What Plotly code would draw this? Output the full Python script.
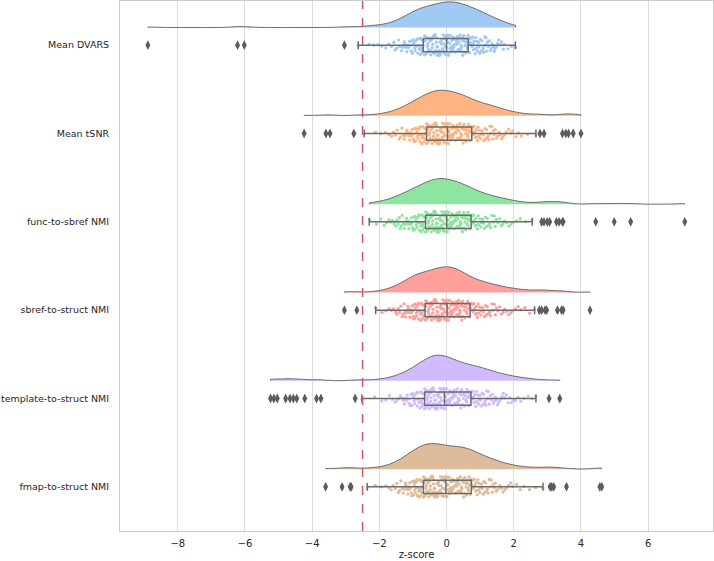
import plotly.graph_objects as go

# rows top -> bottom
labels = ["Mean DVARS", "Mean tSNR", "func-to-sbref NMI", "sbref-to-struct NMI",
          "template-to-struct NMI", "fmap-to-struct NMI"]
colors = ["#a1c9f4", "#ffb482", "#8de5a1", "#ff9f9b", "#d0bbff", "#debb9b"]

xticks = [-8, -6, -4, -2, 0, 2, 4, 6]
cutoff = -2.5

# z-scores per metric, estimated from the strip plot (outliers first)
mean_dvars = [
    -8.89, -6.22, -6.02, -3.04,
    -2.63, -2.31, -2.17, -2.04, -1.93, -1.81, -1.72, -1.64, -1.57, -1.53,
    -1.49, -1.43, -1.40, -1.34, -1.31, -1.29, -1.26,
    -1.24, -1.22, -1.18, -1.16, -1.14, -1.10, -1.09, -1.06, -1.03, -1.02, -1.01,
    -0.99, -0.98, -0.95, -0.93, -0.92, -0.89, -0.88, -0.86, -0.84, -0.83, -0.81, -0.79, -0.78, -0.77, -0.75,
    -0.74, -0.72, -0.71, -0.70, -0.69, -0.66, -0.65, -0.64, -0.61, -0.60, -0.59, -0.57, -0.56, -0.54, -0.53, -0.52, -0.50,
    -0.49, -0.47, -0.46, -0.45, -0.43, -0.41, -0.40, -0.39, -0.37, -0.36, -0.34, -0.33, -0.32, -0.30, -0.29, -0.28, -0.27, -0.25,
    -0.24, -0.23, -0.22, -0.21, -0.19, -0.18, -0.17, -0.15, -0.14, -0.13, -0.12, -0.10, -0.09, -0.08, -0.07, -0.05, -0.04, -0.03, -0.02, -0.01,
    0.00, 0.01, 0.03, 0.04, 0.05, 0.06, 0.08, 0.09, 0.10, 0.11, 0.12, 0.14, 0.15, 0.16, 0.17, 0.18, 0.19, 0.20, 0.21, 0.22, 0.23, 0.24,
    0.26, 0.27, 0.29, 0.30, 0.31, 0.32, 0.34, 0.35, 0.36, 0.38, 0.39, 0.40, 0.41, 0.43, 0.44, 0.45, 0.46, 0.47, 0.48, 0.49,
    0.51, 0.52, 0.54, 0.55, 0.57, 0.58, 0.59, 0.61, 0.62, 0.64, 0.65, 0.67, 0.68, 0.70, 0.71, 0.73, 0.74,
    0.76, 0.78, 0.79, 0.80, 0.82, 0.84, 0.85, 0.87, 0.88, 0.90, 0.92, 0.93, 0.95, 0.97, 0.99,
    1.01, 1.03, 1.05, 1.08, 1.09, 1.11, 1.14, 1.15, 1.17, 1.20, 1.21, 1.24,
    1.27, 1.31, 1.33, 1.36, 1.40, 1.42, 1.45, 1.49,
    1.52, 1.55, 1.61, 1.64, 1.69, 1.72, 1.83, 1.93, 2.05,
]

mean_tsnr = [
    -4.24, -3.59, -3.47, -2.76, 2.78, 2.90, 3.45, 3.55, 3.63, 3.77, 4.00,
    -2.45, -2.12, -1.96, -1.82, -1.71, -1.63, -1.58, -1.52,
    -1.47, -1.41, -1.37, -1.33, -1.29, -1.26,
    -1.24, -1.21, -1.18, -1.15, -1.13, -1.10, -1.08, -1.05, -1.03, -1.01,
    -0.99, -0.97, -0.95, -0.93, -0.91, -0.89, -0.87, -0.85, -0.83, -0.82, -0.80, -0.79, -0.77, -0.76,
    -0.74, -0.73, -0.71, -0.70, -0.69, -0.67, -0.66, -0.64, -0.63, -0.62, -0.60, -0.59, -0.57, -0.56, -0.55, -0.53, -0.52, -0.51,
    -0.49, -0.48, -0.47, -0.46, -0.44, -0.43, -0.42, -0.41, -0.39, -0.38, -0.37, -0.36, -0.34, -0.33, -0.32, -0.31, -0.30, -0.29, -0.28, -0.27, -0.26,
    -0.25, -0.24, -0.23, -0.22, -0.21, -0.20, -0.19, -0.17, -0.16, -0.15, -0.14, -0.13, -0.12, -0.11, -0.10, -0.08, -0.07, -0.06, -0.05, -0.04, -0.03, -0.01,
    0.00, 0.01, 0.02, 0.04, 0.05, 0.06, 0.07, 0.08, 0.10, 0.11, 0.12, 0.13, 0.14, 0.16, 0.17, 0.18, 0.19, 0.20, 0.22, 0.23, 0.24,
    0.26, 0.27, 0.28, 0.29, 0.31, 0.32, 0.33, 0.35, 0.36, 0.37, 0.38, 0.40, 0.41, 0.42, 0.44, 0.45, 0.46, 0.48, 0.49,
    0.51, 0.52, 0.54, 0.55, 0.57, 0.58, 0.60, 0.61, 0.63, 0.64, 0.66, 0.67, 0.69, 0.70, 0.72, 0.74,
    0.76, 0.78, 0.80, 0.82, 0.84, 0.86, 0.88, 0.90, 0.92, 0.94, 0.96, 0.99,
    1.01, 1.04, 1.06, 1.09, 1.11, 1.14, 1.16, 1.19, 1.21, 1.24,
    1.26, 1.29, 1.32, 1.34, 1.37, 1.40, 1.42, 1.45, 1.48,
    1.52, 1.56, 1.60, 1.64, 1.68, 1.73, 1.78, 1.85, 1.91, 1.97,
    2.06, 2.14, 2.23, 2.41, 2.66,
]

func_sbref_nmi = [
    2.83, 2.90, 3.00, 3.07, 3.27, 3.35, 3.45, 3.47, 4.44, 4.99, 5.48, 7.09,
    -2.30, -2.09, -1.96, -1.86, -1.78, -1.72, -1.66, -1.61, -1.56, -1.51,
    -1.48, -1.44, -1.41, -1.38, -1.35, -1.32, -1.29, -1.26,
    -1.24, -1.21, -1.19, -1.16, -1.14, -1.12, -1.09, -1.07, -1.05, -1.03, -1.01,
    -0.99, -0.97, -0.95, -0.94, -0.92, -0.90, -0.88, -0.86, -0.85, -0.83, -0.81, -0.80, -0.78, -0.77, -0.76,
    -0.74, -0.73, -0.71, -0.70, -0.68, -0.67, -0.66, -0.64, -0.63, -0.62, -0.60, -0.59, -0.57, -0.56, -0.55, -0.53, -0.52, -0.51,
    -0.49, -0.48, -0.47, -0.46, -0.44, -0.43, -0.42, -0.41, -0.39, -0.38, -0.37, -0.36, -0.34, -0.33, -0.32, -0.31, -0.30, -0.29, -0.28, -0.27, -0.26,
    -0.25, -0.24, -0.23, -0.22, -0.21, -0.20, -0.18, -0.17, -0.16, -0.15, -0.14, -0.13, -0.12, -0.11, -0.09, -0.08, -0.07, -0.06, -0.05, -0.04, -0.02, -0.01,
    0.00, 0.01, 0.02, 0.03, 0.05, 0.06, 0.07, 0.08, 0.09, 0.11, 0.12, 0.13, 0.14, 0.15, 0.17, 0.18, 0.19, 0.20, 0.21, 0.23, 0.24,
    0.26, 0.27, 0.29, 0.30, 0.31, 0.33, 0.34, 0.35, 0.37, 0.38, 0.39, 0.41, 0.42, 0.43, 0.45, 0.46, 0.47, 0.49,
    0.51, 0.52, 0.54, 0.55, 0.57, 0.58, 0.60, 0.61, 0.63, 0.64, 0.66, 0.67, 0.69, 0.70, 0.72, 0.74,
    0.77, 0.79, 0.81, 0.83, 0.86, 0.88, 0.90, 0.92, 0.94, 0.96, 0.99,
    1.02, 1.04, 1.07, 1.10, 1.13, 1.16, 1.18, 1.21, 1.24,
    1.28, 1.31, 1.35, 1.38, 1.42, 1.45, 1.48,
    1.53, 1.58, 1.63, 1.68, 1.73, 1.79, 1.86, 1.92, 1.98,
    2.08, 2.19, 2.36, 2.55,
]

sbref_struct_nmi = [
    -3.04, -2.67, 2.76, 2.83, 2.93, 2.98, 3.30, 3.42, 3.47, 4.27,
    -2.11, -1.92, -1.80, -1.71, -1.64, -1.58, -1.52,
    -1.48, -1.44, -1.40, -1.36, -1.32, -1.29, -1.26,
    -1.24, -1.22, -1.20, -1.17, -1.15, -1.13, -1.11, -1.09, -1.07, -1.05, -1.03, -1.01,
    -0.99, -0.98, -0.96, -0.95, -0.93, -0.92, -0.90, -0.89, -0.87, -0.86, -0.84, -0.83, -0.81, -0.80, -0.78, -0.77, -0.76,
    -0.74, -0.73, -0.71, -0.70, -0.68, -0.67, -0.65, -0.64, -0.62, -0.61, -0.59, -0.58, -0.56, -0.55, -0.53, -0.52, -0.51,
    -0.49, -0.48, -0.46, -0.45, -0.44, -0.42, -0.41, -0.40, -0.38, -0.37, -0.36, -0.34, -0.33, -0.32, -0.30, -0.29, -0.28, -0.27, -0.26,
    -0.25, -0.24, -0.23, -0.22, -0.21, -0.19, -0.18, -0.17, -0.16, -0.15, -0.14, -0.13, -0.11, -0.10, -0.09, -0.08, -0.07, -0.06, -0.05, -0.03, -0.02, -0.01,
    0.00, 0.01, 0.02, 0.03, 0.04, 0.05, 0.07, 0.08, 0.09, 0.10, 0.11, 0.12, 0.13, 0.14, 0.15, 0.16, 0.18, 0.19, 0.20, 0.21, 0.22, 0.23, 0.24,
    0.26, 0.27, 0.28, 0.29, 0.30, 0.32, 0.33, 0.34, 0.35, 0.36, 0.38, 0.39, 0.40, 0.41, 0.43, 0.44, 0.45, 0.46, 0.48, 0.49,
    0.51, 0.53, 0.54, 0.56, 0.58, 0.59, 0.61, 0.63, 0.64, 0.66, 0.68, 0.70, 0.72, 0.74,
    0.77, 0.79, 0.81, 0.83, 0.86, 0.88, 0.90, 0.92, 0.94, 0.96, 0.99,
    1.02, 1.04, 1.07, 1.10, 1.13, 1.16, 1.18, 1.21, 1.24,
    1.28, 1.31, 1.35, 1.38, 1.42, 1.45, 1.48,
    1.53, 1.58, 1.63, 1.68, 1.73, 1.79, 1.85, 1.91, 1.97,
    2.05, 2.13, 2.21, 2.33, 2.47, 2.62,
]

template_struct_nmi = [
    -5.24, -5.14, -5.04, -4.79, -4.66, -4.56, -4.46, -4.22, -3.87, -3.74, -2.72, 3.05, 3.37,
    -2.52, -2.14, -1.93, -1.81, -1.70, -1.61, -1.53,
    -1.47, -1.42, -1.37, -1.33, -1.29, -1.26,
    -1.23, -1.20, -1.17, -1.14, -1.11, -1.08, -1.06, -1.03, -1.01,
    -0.99, -0.97, -0.95, -0.93, -0.91, -0.89, -0.87, -0.85, -0.83, -0.81, -0.79, -0.77, -0.76,
    -0.74, -0.73, -0.72, -0.70, -0.69, -0.68, -0.66, -0.65, -0.64, -0.62, -0.61, -0.60, -0.58, -0.57, -0.56, -0.55, -0.54, -0.53, -0.52, -0.51,
    -0.49, -0.48, -0.47, -0.46, -0.45, -0.44, -0.42, -0.41, -0.40, -0.39, -0.38, -0.37, -0.35, -0.34, -0.33, -0.32, -0.31, -0.30, -0.29, -0.28, -0.27, -0.26,
    -0.25, -0.24, -0.23, -0.22, -0.21, -0.20, -0.19, -0.18, -0.17, -0.16, -0.15, -0.14, -0.12, -0.11, -0.10, -0.09, -0.08, -0.07, -0.06, -0.05, -0.04, -0.03, -0.01,
    0.00, 0.01, 0.03, 0.04, 0.05, 0.06, 0.08, 0.09, 0.10, 0.11, 0.13, 0.14, 0.15, 0.16, 0.18, 0.19, 0.20, 0.21, 0.23, 0.24,
    0.26, 0.27, 0.29, 0.30, 0.32, 0.33, 0.35, 0.36, 0.38, 0.39, 0.41, 0.42, 0.44, 0.45, 0.47, 0.49,
    0.51, 0.53, 0.54, 0.56, 0.58, 0.59, 0.61, 0.63, 0.64, 0.66, 0.68, 0.70, 0.72, 0.74,
    0.76, 0.78, 0.80, 0.82, 0.84, 0.86, 0.87, 0.89, 0.91, 0.93, 0.95, 0.97, 0.99,
    1.01, 1.03, 1.06, 1.08, 1.10, 1.13, 1.15, 1.17, 1.19, 1.22, 1.24,
    1.27, 1.30, 1.33, 1.36, 1.39, 1.42, 1.45, 1.48,
    1.52, 1.56, 1.61, 1.65, 1.69, 1.73, 1.78, 1.83, 1.88, 1.93, 1.98,
    2.05, 2.13, 2.21, 2.31, 2.43, 2.55, 2.66,
]

fmap_struct_nmi = [
    -3.60, -3.11, -2.87, -2.84, 2.87, 3.08, 3.13, 3.19, 3.57, 4.56, 4.62,
    -2.36, -2.12, -1.94, -1.81, -1.72, -1.65, -1.59, -1.53,
    -1.48, -1.44, -1.40, -1.36, -1.32, -1.29, -1.26,
    -1.24, -1.22, -1.20, -1.17, -1.15, -1.13, -1.11, -1.09, -1.07, -1.05, -1.03, -1.01,
    -0.99, -0.98, -0.96, -0.95, -0.93, -0.92, -0.90, -0.89, -0.87, -0.86, -0.84, -0.83, -0.81, -0.80, -0.78, -0.77, -0.76,
    -0.74, -0.73, -0.72, -0.70, -0.69, -0.68, -0.66, -0.65, -0.64, -0.63, -0.61, -0.60, -0.59, -0.58, -0.56, -0.55, -0.54, -0.53, -0.52, -0.51,
    -0.49, -0.48, -0.47, -0.46, -0.44, -0.43, -0.42, -0.41, -0.40, -0.39, -0.37, -0.36, -0.35, -0.34, -0.33, -0.31, -0.30, -0.29, -0.28, -0.26,
    -0.25, -0.24, -0.22, -0.21, -0.20, -0.18, -0.17, -0.16, -0.15, -0.13, -0.12, -0.11, -0.09, -0.08, -0.07, -0.05, -0.04, -0.02,
    0.00, 0.01, 0.03, 0.04, 0.05, 0.07, 0.08, 0.09, 0.11, 0.12, 0.13, 0.15, 0.16, 0.17, 0.19, 0.20, 0.22, 0.24,
    0.26, 0.27, 0.29, 0.30, 0.31, 0.33, 0.34, 0.35, 0.37, 0.38, 0.40, 0.41, 0.42, 0.44, 0.45, 0.46, 0.48, 0.49,
    0.51, 0.52, 0.54, 0.55, 0.57, 0.58, 0.60, 0.61, 0.62, 0.64, 0.65, 0.67, 0.68, 0.70, 0.71, 0.73, 0.74,
    0.76, 0.78, 0.80, 0.82, 0.84, 0.86, 0.88, 0.90, 0.91, 0.93, 0.95, 0.97, 0.99,
    1.01, 1.04, 1.06, 1.09, 1.11, 1.14, 1.16, 1.19, 1.21, 1.24,
    1.27, 1.30, 1.33, 1.36, 1.39, 1.42, 1.45, 1.48,
    1.53, 1.58, 1.63, 1.68, 1.73, 1.79, 1.85, 1.91, 1.97,
    2.08, 2.19, 2.31, 2.47, 2.65,
]

series = [mean_dvars, mean_tsnr, func_sbref_nmi, sbref_struct_nmi,
          template_struct_nmi, fmap_struct_nmi]

GRAY = "#6b6b6b"
n = len(labels)
positions = [n - 1 - i for i in range(n)]

fig = go.Figure()

for name, vals, col, pos in zip(labels, series, colors, positions):
    # rain: jittered strip of all subjects
    fig.add_trace(go.Box(
        x=vals, y0=pos, orientation="h", name=name,
        boxpoints="all", jitter=1, pointpos=0, width=0.24,
        fillcolor="rgba(0,0,0,0)", line=dict(color="rgba(0,0,0,0)", width=0),
        marker=dict(color=col, size=3.3), hoverinfo="x",
    ))
    # box with outliers as diamonds
    fig.add_trace(go.Box(
        x=vals, y0=pos, orientation="h", name=name,
        boxpoints="outliers", width=0.15, whiskerwidth=0.6,
        fillcolor="rgba(0,0,0,0)", line=dict(color=GRAY, width=1.5),
        marker=dict(symbol="diamond-tall", color="#5c5c5c", size=7),
    ))
    # cloud: half violin above the box
    fig.add_trace(go.Violin(
        x=vals, y0=pos + 0.2, orientation="h", name=name,
        side="positive", width=0.58, scalemode="width", spanmode="hard",
        bandwidth=0.25, points=False, fillcolor=col, opacity=1,
        line=dict(color=GRAY, width=1), hoveron="violins",
    ))

fig.add_vline(x=cutoff, line=dict(color="#d0585c", dash="dash", width=1.5))

fig.update_layout(
    width=714, height=561,
    margin=dict(l=120, r=1, t=1, b=30),
    plot_bgcolor="white", paper_bgcolor="white",
    font=dict(family="DejaVu Sans", size=10, color="#262626"),
    showlegend=False, boxmode="overlay", violinmode="overlay",
    xaxis=dict(range=[-9.72, 7.93], tickvals=xticks, showgrid=True, gridcolor="#dcdcdc",
               zeroline=False, showline=True, mirror=True, linecolor="#cccccc",
               ticks="", ticklabelstandoff=3, automargin=False,
               title=dict(text="z-score", standoff=2, font=dict(size=10))),
    yaxis=dict(type="linear", range=[-0.5, 5.5], tickvals=positions, ticktext=labels,
               showgrid=False, zeroline=False, showline=True, mirror=True,
               linecolor="#cccccc", ticks="", ticklabelstandoff=8, automargin=False,
               tickfont=dict(size=9.5)),
)

# the page's default body margin would shift the figure by 8px
fig.write_html("out.html", config={"displayModeBar": False},
               post_script="document.body.style.margin='0';")
